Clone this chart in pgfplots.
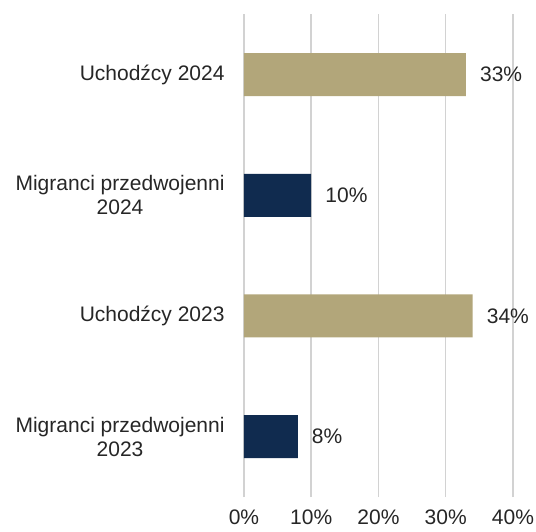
\documentclass[border=0pt]{standalone}
\usepackage{pgfplots}
\pgfplotsset{compat=1.18}
\usepackage{fontspec}
\setmainfont{Liberation Sans}
\definecolor{tan}{RGB}{178,166,122}
\definecolor{navy}{RGB}{16,43,79}
\definecolor{txt}{RGB}{38,38,38}
\definecolor{gridc}{RGB}{210,210,210}
\begin{document}
\begin{tikzpicture}
\path[use as bounding box] (-244pt,-34pt) rectangle (292pt,497pt);
\begin{axis}[
  anchor=south west, at={(0pt,0pt)},
  scale only axis, width=269pt, height=482.7pt,
  xbar, bar width=43pt, bar shift=0pt,
  xmin=0, xmax=40, ymin=-0.5, ymax=3.5,
  xtick={0,10,20,30,40},
  xticklabels={0\%,10\%,20\%,30\%,40\%},
  ytick={0,1,2,3},
  yticklabels={{Migranci przedwojenni\\2023},{Uchodźcy 2023},{Migranci przedwojenni\\2024},{Uchodźcy 2024}},
  xmajorgrids, grid style={color=gridc, line width=1.5pt},
  axis line style={draw=none}, tick style={draw=none},
  tick label style={font=\fontsize{21}{24}\selectfont, text=txt, inner sep=0pt},
  xticklabel style={anchor=north, yshift=-13pt},
  yticklabel style={align=center, anchor=east, xshift=-15pt},
  /pgf/number format/assume math mode=true,
  nodes near coords={\pgfmathprintnumber{\pgfplotspointmeta}\%},
  every node near coord/.append style={anchor=west, inner sep=0pt, xshift=14pt, font=\fontsize{21}{24}\selectfont, text=txt},
  clip=false,
]
\addplot[fill=tan, draw=none] coordinates {(33,3) (34,1)};
\addplot[fill=navy, draw=none] coordinates {(10,2) (8,0)};
\end{axis}
\end{tikzpicture}
\end{document}
